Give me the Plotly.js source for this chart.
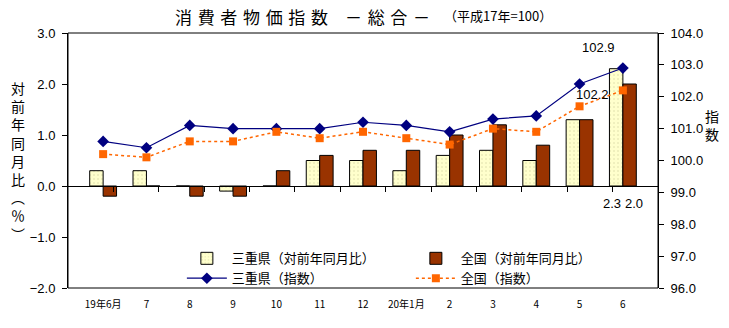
<!DOCTYPE html>
<html>
<head>
<meta charset="utf-8">
<script src="https://cdn.plot.ly/plotly-3.0.1.min.js"></script>
<style>
html,body{margin:0;padding:0;background:#fff;}
#chart{width:729px;height:328px;}
</style>
</head>
<body>
<div id="chart"></div>
<script>
const categories = ['19年6月','7','8','9','10','11','12','20年1月','2','3','4','5','6'];
const mieYoY = [0.3, 0.3, 0.0, -0.1, 0.0, 0.5, 0.5, 0.3, 0.6, 0.7, 0.5, 1.3, 2.3];
const zenkokuYoY = [-0.2, 0.0, -0.2, -0.2, 0.3, 0.6, 0.7, 0.7, 1.0, 1.2, 0.8, 1.3, 2.0];
const mieIndex = [100.6, 100.4, 101.1, 101.0, 101.0, 101.0, 101.2, 101.1, 100.9, 101.3, 101.4, 102.4, 102.9];
const zenkokuIndex = [100.2, 100.1, 100.6, 100.6, 100.9, 100.7, 100.9, 100.7, 100.5, 101.0, 100.9, 101.7, 102.2];
const yRange = [-2, 3];
const y2Range = [96, 104];

const JP = '"Noto Sans CJK JP", "Noto Sans", sans-serif';
const NUM = '"Liberation Sans", Arial, sans-serif';

const traces = [
  {type:'bar', name:'三重県（対前年同月比）', x:categories, y:mieYoY, xaxis:'x', yaxis:'y',
   marker:{color:'#FFFFCC', line:{color:'#000', width:1},
     pattern:{shape:'.', fgcolor:'#ECECB8', bgcolor:'#FFFFCC', size:4, solidity:0.2}},
   hoverinfo:'skip'},
  {type:'bar', name:'全国（対前年同月比）', x:categories, y:zenkokuYoY, xaxis:'x', yaxis:'y',
   marker:{color:'#993300', line:{color:'#000', width:1}}, hoverinfo:'skip'},
  {type:'scatter', mode:'lines+markers', name:'三重県（指数）', x:categories, y:mieIndex, xaxis:'x', yaxis:'y2',
   line:{color:'#000080', width:1.2}, marker:{symbol:'diamond', size:9, color:'#000080'}, hoverinfo:'skip'},
  {type:'scatter', mode:'lines+markers', name:'全国（指数）', x:categories, y:zenkokuIndex, xaxis:'x', yaxis:'y2',
   line:{color:'#FF6600', width:1.5, dash:'dot'}, marker:{symbol:'square', size:8, color:'#FF6600'}, hoverinfo:'skip'},
  {type:'scatter', x:[], y:[], xaxis:'x2', yaxis:'y', showlegend:false, hoverinfo:'skip'}
];

const n = categories.length;
const boundaries = [];
for (let i = 0; i < n - 1; i++) boundaries.push(i + 0.5);
const zeroPos = (0 - yRange[0]) / (yRange[1] - yRange[0]);
const last = n - 1;

const yTitle = '対前年同月比︵％︶'.split('').join('<br>');
const titleText = '消費者物価指数'.split('').join('\u2004') + '\u2002\u2002' + '－総合－'.split('').join('\u2004');

const layout = {
  width:729, height:328,
  margin:{l:68, r:71, t:33, b:40, pad:0, autoexpand:false},
  paper_bgcolor:'#fff', plot_bgcolor:'#fff',
  showlegend:true,
  barmode:'group', bargap:0.38, bargroupgap:0,
  font:{family:JP, size:13, color:'#000'},
  xaxis:{type:'category', showgrid:false, zeroline:false, showline:false, ticks:'',
    tickfont:{family:JP, size:10}, ticklabelstandoff:9, fixedrange:true, automargin:false},
  xaxis2:{overlaying:'x', anchor:'free', position:zeroPos, range:[-0.5, n - 0.5],
    showgrid:false, zeroline:false, showline:true, linecolor:'#000', linewidth:1,
    ticks:'outside', ticklen:5, tickcolor:'#000', tickvals:boundaries, showticklabels:false},
  yaxis:{range:yRange, dtick:1, tickformat:'.1f', showgrid:false, zeroline:false,
    showline:true, linecolor:'#000', ticks:'outside', ticklen:5, tickcolor:'#000',
    tickfont:{family:NUM, size:13}, ticklabelstandoff:4, automargin:false},
  yaxis2:{range:y2Range, dtick:1, tickformat:'.1f', overlaying:'y', side:'right', showgrid:false, zeroline:false,
    showline:true, linecolor:'#000', ticks:'outside', ticklen:5, tickcolor:'#000',
    tickfont:{family:NUM, size:13}, ticklabelstandoff:4, automargin:false},
  legend:{orientation:'h', x:0.193, xanchor:'left', y:0.175, yanchor:'top',
    entrywidth:174, entrywidthmode:'pixels', font:{family:JP, size:13},
    bgcolor:'rgba(255,255,255,0)', traceorder:'normal', itemwidth:40, tracegroupgap:0},
  shapes:[
    {type:'rect', xref:'paper', yref:'paper', x0:0, x1:1, y0:0, y1:1, line:{color:'#000', width:1}}
  ],
  annotations:[
    {xref:'paper', yref:'paper', x:0.398, y:1, yshift:17, xanchor:'center', yanchor:'middle', showarrow:false,
     text:titleText, font:{family:JP, size:17}},
    {xref:'paper', yref:'paper', x:0.729, y:1, yshift:18, xanchor:'center', yanchor:'middle', showarrow:false,
     text:'（平成17年=100）', font:{family:JP, size:13}},
    {xref:'paper', yref:'paper', x:-0.085, y:0.5, xanchor:'center', yanchor:'middle', showarrow:false,
     text:yTitle, font:{family:JP, size:14}},
    {xref:'paper', yref:'paper', x:1, xshift:54, y:0.64, xanchor:'center', yanchor:'middle', showarrow:false,
     text:'指<br>数', font:{family:JP, size:14}},
    {xref:'x', yref:'y2', x:last, y:mieIndex[last], yshift:21, xshift:-24, showarrow:false,
     text:mieIndex[last].toFixed(1), font:{family:NUM, size:13}},
    {xref:'x', yref:'y2', x:last, y:zenkokuIndex[last], yshift:-4, xshift:-12, xanchor:'right', showarrow:false,
     text:zenkokuIndex[last].toFixed(1), font:{family:NUM, size:13}},
    {xref:'x', yref:'y', x:last, y:0, yshift:-17, xshift:-11, showarrow:false,
     text:mieYoY[last].toFixed(1), font:{family:NUM, size:13}},
    {xref:'x', yref:'y', x:last, y:0, yshift:-17, xshift:11, showarrow:false,
     text:zenkokuYoY[last].toFixed(1), font:{family:NUM, size:13}}
  ]
};

Plotly.newPlot('chart', traces, layout, {staticPlot:true, displayModeBar:false});
</script>
</body>
</html>
